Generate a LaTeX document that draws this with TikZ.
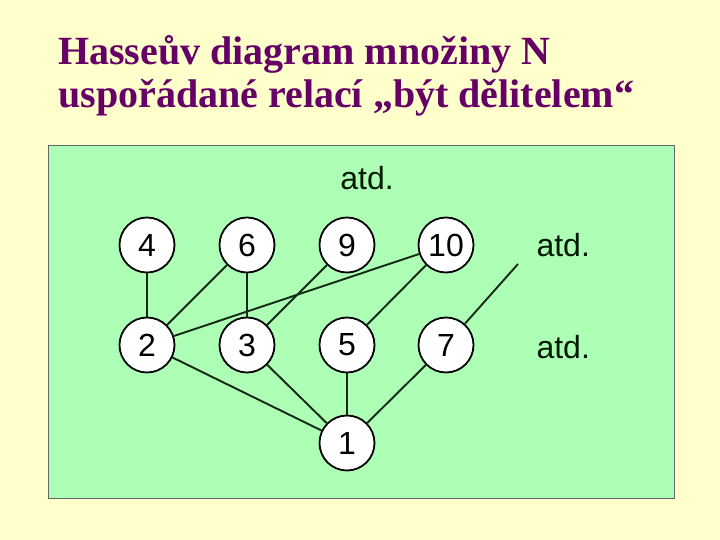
\documentclass[tikz,border=0pt]{standalone}
\usepackage{fontspec}
\setmainfont{Liberation Serif}
\newfontfamily\arialfont{Liberation Sans}
\usetikzlibrary{positioning}
\definecolor{paper}{RGB}{255,255,204}
\definecolor{meadow}{RGB}{172,255,180}
\definecolor{plum}{RGB}{102,0,102}
\definecolor{edgeink}{RGB}{20,40,20}
\tikzset{
  num/.style={circle,draw=black,fill=white,line width=1.8pt,minimum size=55pt,
    inner sep=0pt,font=\arialfont\fontsize{32}{32}\selectfont},
  etc/.style={font=\arialfont\fontsize{32}{32}\selectfont,text=black!90!green},
  link/.style={draw=edgeink,line width=1.9pt},
}
\begin{document}
\begin{tikzpicture}[x=1pt,y=1pt]
  \fill[paper] (0,0) rectangle (720,540);
  \useasboundingbox (0,0) rectangle (720,540);
  % title
  \node[anchor=base west,text=plum,font=\bfseries\fontsize{40}{43}\selectfont,inner sep=0pt] (title) at (58,475)
    {Hasseův diagram množiny N};
  \node[anchor=base west,text=plum,font=\bfseries\fontsize{40}{43}\selectfont,inner sep=0pt] (subtitle) at (58,432)
    {uspořádané relací „být dělitelem“};
  % green panel
  \filldraw[fill=meadow,draw=black!60,line width=0.8pt] (48,42) rectangle (674,395);
  % numbers
  \foreach \n/\x/\y in {4/147/295,6/247/295,9/347/295,10/446/295,2/147/195,3/247/195,5/347/195,7/446/195,1/347/97}
    \node[num] (n\n) at (\x,\y) {\n};
  \node[etc] (etcup) at (367,362) {atd.};
  \node[etc,anchor=west] (etcb) at (533,295) {atd.};
  \node[etc,anchor=west] (etcc) at (533,193) {atd.};
  \coordinate (loose) at (518,276);
  % divisibility links
  \foreach \a/\b in {4/2,6/2,6/3,9/3,10/2,10/5,2/1,3/1,5/1,7/1}
    \draw[link] (n\a) -- (n\b);
  \draw[link] (n7) -- (loose);
\end{tikzpicture}
\end{document}
